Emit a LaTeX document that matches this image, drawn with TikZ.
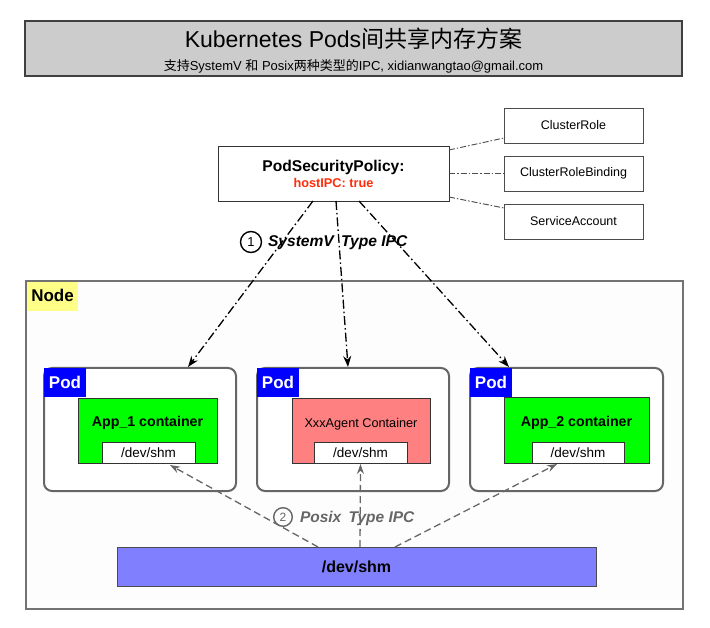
\documentclass[tikz,border=0pt]{standalone}
\usepackage{fontspec}
\setmainfont{Liberation Sans}
\newfontfamily\cjk{Noto Sans CJK SC}
\usetikzlibrary{arrows.meta,calc}
\definecolor{titlegray}{HTML}{CCCCCC}
\definecolor{nodeyellow}{HTML}{FFFF88}
\definecolor{podblue}{HTML}{0000FF}
\definecolor{appgreen}{HTML}{00FF00}
\definecolor{agentred}{HTML}{FF8080}
\definecolor{shmblue}{HTML}{8080FF}
\definecolor{hostred}{HTML}{FF2D0A}
\definecolor{posixgray}{HTML}{666666}
\definecolor{framefill}{HTML}{FDFDFD}
\newcommand\fsz[1]{\fontsize{#1}{#1}\selectfont}
\tikzset{
  bx/.style={draw, inner sep=0pt, outer sep=0pt, anchor=north west},
  lbl/.style={inner sep=0pt, outer sep=0pt, anchor=base},
  roletext/.style={font=\fsz{12.5}},
  pspline/.style={draw=black, line width=1.3pt, dash pattern=on 9pt off 3pt on 1.5pt off 3pt, -{Stealth[length=11pt,width=8pt]}},
  roleline/.style={draw=black!70, line width=0.9pt, dash pattern=on 6pt off 2pt on 1.5pt off 2pt},
  posixline/.style={draw=posixgray, line width=1.3pt, dash pattern=on 7pt off 4pt, -{Stealth[length=10pt,width=7pt]}},
  podbox/.style={bx, draw=black!60, line width=2pt, fill=white, rounded corners=8pt, minimum width=192, minimum height=123},
  podtag/.style={bx, draw=none, fill=podblue, minimum width=42, minimum height=29, text=white, font=\bfseries\fsz{17}},
  cont/.style={bx, draw=black!80, line width=0.8pt, minimum height=65},
  shmbox/.style={bx, draw=black!80, line width=0.8pt, fill=white, minimum width=93, minimum height=21, font=\fsz{13.5}},
  numcirc/.style={circle, draw, line width=1.4pt, inner sep=0pt, minimum size=20, font=\fsz{13}}
}
\begin{document}
\begin{tikzpicture}[x=1pt,y=-1pt]
\useasboundingbox (0,0) rectangle (710,628);
\fill[white] (0,0) rectangle (710,628);

% title
\node[bx, draw=black!75, line width=1.2pt, fill=titlegray, minimum width=657, minimum height=55] (title) at (25,21) {};
\node[lbl, font=\fsz{23}] (titletext) at (353.5,47.5) {Kubernetes Pods{\cjk 间共享内存方案}};
\node[lbl, font=\fsz{13}] (subtitle) at (353.5,70.5) {{\cjk 支持}SystemV {\cjk 和} Posix{\cjk 两种类型的}IPC, xidianwangtao@gmail.com};

% right boxes
\node[bx, draw=black!70, line width=0.8pt, minimum width=139, minimum height=35, roletext] (cr) at (504,108) {ClusterRole};
\node[bx, draw=black!70, line width=0.8pt, minimum width=139, minimum height=35, roletext] (crb) at (504,156) {ClusterRoleBinding};
\node[bx, draw=black!70, line width=0.8pt, minimum width=139, minimum height=35, roletext] (sa) at (504,204) {ServiceAccount};

% PSP
\node[bx, draw=black!80, line width=0.9pt, fill=white, minimum width=231, minimum height=55] (psp) at (218,146) {};
\node[lbl, font=\bfseries\fsz{15.6}] (psptitle) at (333.5,172) {PodSecurityPolicy:};
\node[lbl, font=\bfseries\fsz{12.7}, text=hostred] (psphost) at (333.5,187.5) {hostIPC: true};

\draw[roleline] ($(psp.north east)+(0,4)$) -- ($(cr.south west)+(0,-5)$);
\draw[roleline] (psp.east) -- (crb.west);
\draw[roleline] ($(psp.south east)+(0,-4)$) -- ($(sa.north west)+(0,4)$);

% Node frame
\node[bx, draw=black!55, line width=1.2pt, fill=framefill, minimum width=657, minimum height=328] (nodeframe) at (26,281) {};
\node[bx, draw=none, fill=nodeyellow, minimum width=51, minimum height=29] (nodetag) at (27,282) {};
\node[lbl, font=\bfseries\fsz{17}] (nodetext) at (52.5,302) {Node};

% Pods
\node[podbox] (pod1) at (44,368) {};
\node[podbox] (pod2) at (257,368) {};
\node[podbox, minimum width=193] (pod3) at (470,368) {};
\node[podtag] (tag1) at (44,368) {Pod};
\node[podtag] (tag2) at (257,368) {Pod};
\node[podtag] (tag3) at (470,368) {Pod};

% containers
\node[cont, fill=appgreen, minimum width=139] (c1) at (78,398) {};
\node[cont, fill=agentred, minimum width=138] (c2) at (292,398) {};
\node[cont, fill=appgreen, minimum width=145, minimum height=66] (c3) at (504,397) {};
\node[lbl, font=\bfseries\fsz{14.2}] (c1t) at (147.5,427) {App\_1 container};
\node[lbl, font=\fsz{12.7}] (c2t) at (361,428) {XxxAgent Container};
\node[lbl, font=\bfseries\fsz{14.2}] (c3t) at (576.5,427) {App\_2 container};
\node[shmbox] (s1) at (102,442) {/dev/shm};
\node[shmbox] (s2) at (314,442) {/dev/shm};
\node[shmbox, minimum width=92] (s3) at (532,442) {/dev/shm};

% PSP -> pods
\draw[pspline] ($(psp.south)+(-20.5,0)$) -- ($(pod1.north east)+(-48,-1)$);
\draw[pspline] ($(psp.south)+(2.5,0)$) -- ($(pod2.north)+(-5,-1)$);
\draw[pspline] ($(psp.south)+(25.5,0)$) -- ($(pod3.north west)+(39,-1)$);
\node[numcirc, minimum size=21] (n1) at (251,242) {1};
\node[lbl, anchor=base west, font=\bfseries\itshape\fsz{15.6}] (systemv) at (268,247) {SystemV\hspace{3pt} Type IPC};

% shared memory bar
\node[bx, draw=black!70, line width=0.8pt, fill=shmblue, minimum width=479, minimum height=39, font=\bfseries\fsz{16}] (bar) at (117,547) {/dev/shm};

\draw[posixline] ($(bar.north)+(-38.5,0)$) -- ($(s1.south)+(21.5,2)$);
\draw[posixline] ($(bar.north)+(3.5,0)$) -- ($(s2.south)+(0,1)$);
\draw[posixline] ($(bar.north)+(38.5,0)$) -- ($(s3.south)+(-21,1)$);
\node[numcirc, draw=posixgray, text=posixgray, minimum size=18.6, font=\fsz{12}] (n2) at (283,517) {2};
\node[lbl, anchor=base west, font=\bfseries\itshape\fsz{15.5}, text=posixgray] (posix) at (300,522) {Posix\hspace{3pt} Type IPC};
\end{tikzpicture}
\end{document}
